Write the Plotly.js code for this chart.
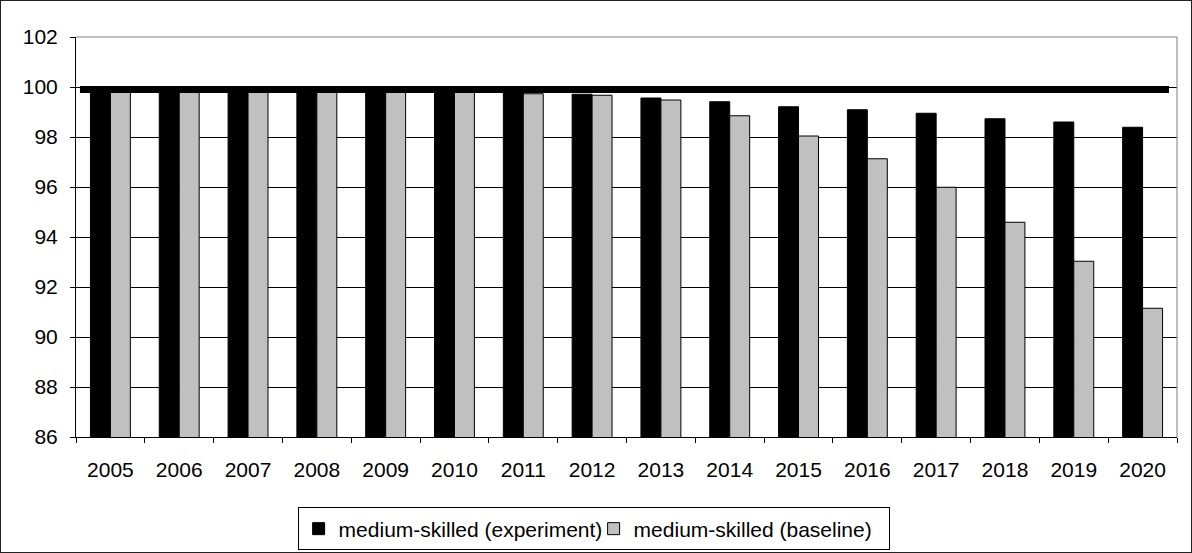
<!DOCTYPE html>
<html>
<head>
<meta charset="utf-8">
<script src="https://cdn.plot.ly/plotly-3.0.1.min.js"></script>
<style>
html,body{margin:0;padding:0;background:#fff;}
#wrap{position:relative;width:1192px;height:553px;}
#chart{width:1192px;height:553px;}
#frame{position:absolute;left:0;top:0;width:1190px;height:551px;border:1px solid #222;pointer-events:none;}
</style>
</head>
<body>
<div id="wrap"><div id="chart"></div><div id="frame"></div></div>
<script>
var years = ["2005","2006","2007","2008","2009","2010","2011","2012","2013","2014","2015","2016","2017","2018","2019","2020"];
var experiment = [100, 100, 100, 100, 100, 100, 99.85, 99.71, 99.56, 99.41, 99.21, 99.09, 98.95, 98.73, 98.6, 98.39];
var baseline = [100, 99.95, 99.95, 99.95, 99.9, 99.85, 99.73, 99.67, 99.48, 98.85, 98.04, 97.13, 95.99, 94.59, 93.03, 91.15];
var referenceLevel = 99.9;
var yTicks = [86, 88, 90, 92, 94, 96, 98, 100, 102];
var seriesNames = ["medium-skilled (experiment)", "medium-skilled (baseline)"];

var font = {family: "Liberation Sans, Arial, sans-serif", size: 21, color: "#000"};

var data = [
  {type: "bar", name: seriesNames[0], x: years, y: experiment,
   marker: {color: "#000000", line: {color: "#000000", width: 1}}},
  {type: "bar", name: seriesNames[1], x: years, y: baseline,
   marker: {color: "#c0c0c0", line: {color: "#000000", width: 1}}}
];

var layout = {
  width: 1192, height: 553,
  margin: {l: 76, r: 15, t: 37, b: 116},
  paper_bgcolor: "#fff", plot_bgcolor: "#fff",
  font: font,
  barmode: "group", bargap: 0.42, bargroupgap: 0,
  showlegend: true,
  legend: {orientation: "h", xref: "container", yref: "container",
           x: 0.498, xanchor: "center", y: 0.0434, yanchor: "middle",
           bordercolor: "#000", borderwidth: 1, bgcolor: "#fff", font: font,
           itemwidth: 30, traceorder: "normal", tracegroupgap: 0,
           entrywidth: 250, entrywidthmode: "pixels"},
  xaxis: {type: "category", tickson: "boundaries", ticks: "outside", ticklen: 5,
          tickcolor: "#000", showline: true, linecolor: "#000", linewidth: 1,
          showgrid: false, tickfont: font, ticklabelstandoff: 14},
  yaxis: {range: [86, 102], tickvals: yTicks, ticktext: yTicks.map(String),
          ticks: "outside", ticklen: 5, tickcolor: "#000",
          showline: true, linecolor: "#000", linewidth: 1,
          showgrid: true, gridcolor: "#000", gridwidth: 1, zeroline: false,
          tickfont: font, ticklabelstandoff: 8},
  shapes: [
    {type: "line", xref: "paper", yref: "y", x0: 0.0036, x1: 0.9927,
     y0: referenceLevel, y1: referenceLevel, line: {color: "#000", width: 7}, layer: "above"},
    {type: "line", xref: "paper", yref: "paper", x0: 0, x1: 1, y0: 1, y1: 1,
     line: {color: "#808080", width: 1}, layer: "above"},
    {type: "line", xref: "paper", yref: "paper", x0: 1, x1: 1, y0: 0, y1: 1,
     line: {color: "#808080", width: 1}, layer: "above"}
  ]
};

Plotly.newPlot("chart", data, layout, {displayModeBar: false, staticPlot: true});
</script>
</body>
</html>
